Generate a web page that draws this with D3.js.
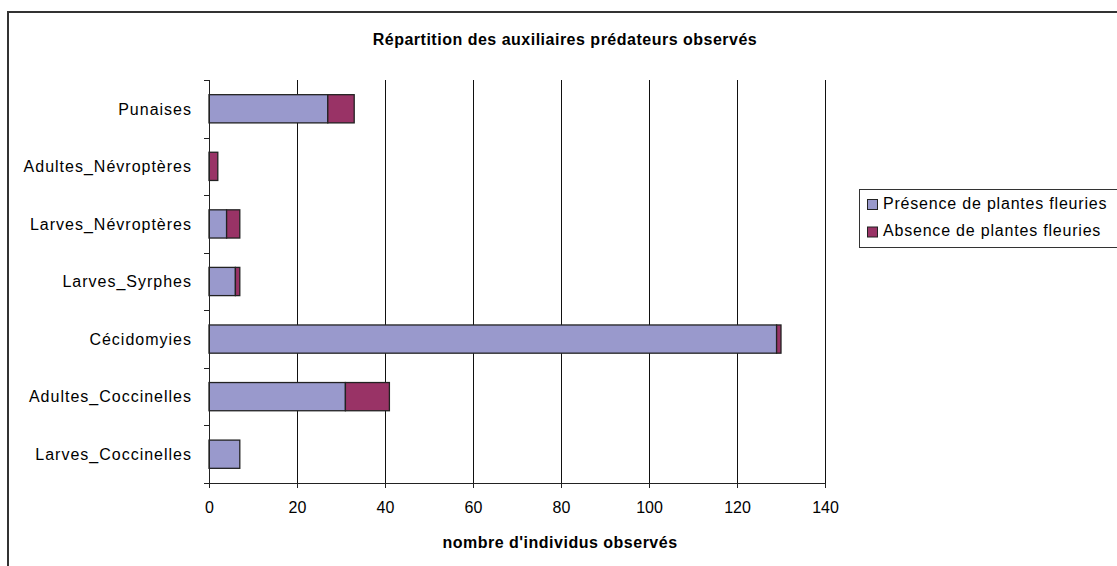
<!DOCTYPE html>
<html>
<head>
<meta charset="utf-8">
<script src="https://cdn.jsdelivr.net/npm/d3@7"></script>
<style>
  html, body { margin: 0; padding: 0; background: #fff; }
  svg { display: block; }
  text { font-family: "Liberation Sans", Arial, sans-serif; fill: #000; }
</style>
</head>
<body>
<svg id="chart" width="1117" height="566"></svg>
<script>
// Predator counts per group, with and without flowering plants
const categories = ["Punaises", "Adultes_Névroptères", "Larves_Névroptères", "Larves_Syrphes",
                    "Cécidomyies", "Adultes_Coccinelles", "Larves_Coccinelles"];
const presence = [27, 0, 4, 6, 129, 31, 7];
const absence  = [6, 2, 3, 1, 1, 10, 0];
const seriesNames = ["Présence de plantes fleuries", "Absence de plantes fleuries"];
const xTicks = [0, 20, 40, 60, 80, 100, 120, 140];

const title = "Répartition des auxiliaires prédateurs observés";
const xTitle = "nombre d'individus observés";

const colors = ["#9999CC", "#993366"];

const svg = d3.select("#chart");
const plot = { left: 209, right: 825, top: 80, bottom: 483 };

// Chart frame
svg.append("rect")
  .attr("x", 8).attr("y", 12)
  .attr("width", 1200).attr("height", 556)
  .attr("fill", "none").attr("stroke", "#333").attr("stroke-width", 2);

const x = d3.scaleLinear().domain([0, 140]).range([plot.left, plot.right]);
const y = d3.scaleBand().domain(categories)
  .range([plot.top, plot.bottom])
  .paddingInner(0.51).paddingOuter(0.255);

// Vertical gridlines
svg.append("g").selectAll("line")
  .data(xTicks.filter(d => d > 0))
  .join("line")
  .attr("x1", d => Math.round(x(d)) + 0.5).attr("x2", d => Math.round(x(d)) + 0.5)
  .attr("y1", plot.top).attr("y2", plot.bottom)
  .attr("stroke", "#111").attr("stroke-width", 1);

// Stacked bars
const stackData = categories.map((c, i) => ({ cat: c, presence: presence[i], absence: absence[i] }));
const stacked = d3.stack().keys(["presence", "absence"])(stackData);

svg.append("g").selectAll("g")
  .data(stacked)
  .join("g")
  .attr("fill", (d, i) => colors[i])
  .selectAll("rect")
  .data(d => d.filter(v => v[1] - v[0] > 0))
  .join("rect")
  .attr("x", d => x(d[0]))
  .attr("y", d => y(d.data.cat))
  .attr("width", d => x(d[1]) - x(d[0]))
  .attr("height", y.bandwidth())
  .attr("stroke", "#222").attr("stroke-width", 1.3);

// X axis
const xAxis = svg.append("g")
  .attr("transform", `translate(0,${plot.bottom})`)
  .call(d3.axisBottom(x).tickValues(xTicks).tickSize(5).tickPadding(14).tickFormat(d3.format("d")));
xAxis.select(".domain").attr("stroke", "#222");
xAxis.selectAll(".tick line").attr("stroke", "#222");
xAxis.selectAll("text")
  .attr("font-size", 16).attr("font-family", "Liberation Sans, Arial, sans-serif")
  .attr("fill", "#000");

// Y axis line and category ticks at band boundaries
svg.append("line")
  .attr("x1", plot.left + 0.5).attr("x2", plot.left + 0.5)
  .attr("y1", plot.top).attr("y2", plot.bottom)
  .attr("stroke", "#222");
const boundaries = d3.range(categories.length + 1).map(i => plot.top + i * y.step());
svg.append("g").selectAll("line")
  .data(boundaries)
  .join("line")
  .attr("x1", plot.left - 5).attr("x2", plot.left)
  .attr("y1", d => Math.round(d) + 0.5).attr("y2", d => Math.round(d) + 0.5)
  .attr("stroke", "#222");

svg.append("g").selectAll("text")
  .data(categories)
  .join("text")
  .attr("x", 192)
  .attr("y", d => y(d) + y.bandwidth() / 2)
  .attr("dy", "0.36em")
  .attr("text-anchor", "end")
  .attr("font-size", 16)
  .attr("letter-spacing", 1.0)
  .text(d => d);

// Titles
svg.append("text")
  .attr("x", 565).attr("y", 45)
  .attr("text-anchor", "middle")
  .attr("font-size", 16).attr("font-weight", "bold")
  .attr("letter-spacing", 0.5)
  .text(title);

svg.append("text")
  .attr("x", 560).attr("y", 548)
  .attr("text-anchor", "middle")
  .attr("font-size", 16).attr("font-weight", "bold")
  .attr("letter-spacing", 0.5)
  .text(xTitle);

// Legend
const legend = svg.append("g");
legend.append("rect")
  .attr("x", 859.5).attr("y", 189.5)
  .attr("width", 300).attr("height", 58)
  .attr("fill", "#fff").attr("stroke", "#333");
seriesNames.forEach((name, i) => {
  const row = legend.append("g").attr("transform", `translate(0,${i * 27.5})`);
  row.append("rect")
    .attr("x", 867.5).attr("y", 199.5).attr("width", 10).attr("height", 10)
    .attr("fill", colors[i]).attr("stroke", "#222");
  row.append("text")
    .attr("x", 883).attr("y", 208.5)
    .attr("font-size", 16).attr("letter-spacing", 0.8)
    .text(name);
});
</script>
</body>
</html>
